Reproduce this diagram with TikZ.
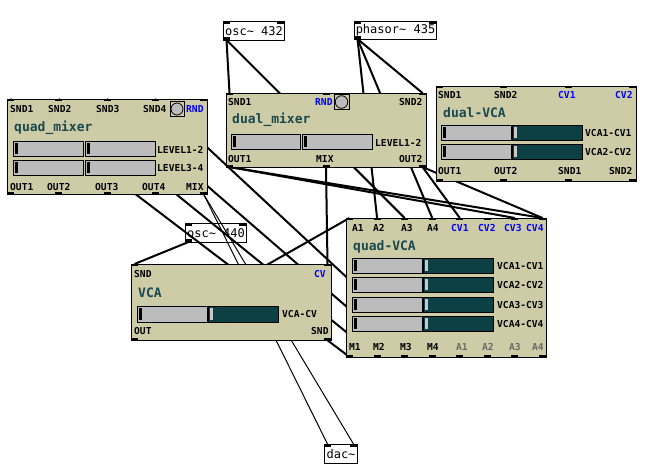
\documentclass[tikz,border=0pt]{standalone}
\usepackage{fontspec}
\newfontfamily\pdmono{DejaVu Sans Mono}
\definecolor{gopbg}{RGB}{206,204,166}
\definecolor{ttlc}{RGB}{25,72,78}
\definecolor{slgrey}{RGB}{188,188,188}
\definecolor{slteal}{RGB}{12,64,68}
\definecolor{knobgrey}{RGB}{200,200,200}
\definecolor{lblue}{RGB}{0,0,255}
\definecolor{lgrey}{RGB}{105,105,105}
\newcommand\pdhsl[4]{%
  \draw[line width=1pt,fill=slgrey] (#1,#2) rectangle (#3,#4);
  \fill[black] (#1+1.5,#2+2) rectangle (#1+4.5,#4-2);}
\newcommand\pdtsl[4]{%
  \draw[line width=1pt,fill=slteal] (#1,#2) rectangle (#3,#4);
  \fill[knobgrey] (#1+1.5,#2+2) rectangle (#1+4.5,#4-2);}
\begin{document}
\begin{tikzpicture}[x=1pt,y=-1pt,
  lab/.style={font=\pdmono\bfseries\fontsize{9.6}{11}\selectfont,anchor=base west,inner sep=0pt,text=black},
  blab/.style={lab,text=lblue},
  glab/.style={lab,text=lgrey},
  ttl/.style={font=\pdmono\bfseries\fontsize{13}{15}\selectfont,anchor=base west,inner sep=0pt,text=ttlc},
  obj/.style={draw=black,line width=1pt,anchor=north west,inner sep=0pt,minimum height=19pt,font=\pdmono\fontsize{12}{14}\selectfont},
  gop/.style={draw=black,line width=1pt,fill=gopbg,anchor=north west,inner sep=0pt},
  sig/.style={line width=2pt},
  ctl/.style={line width=1pt},
  iomark/.style={fill=black}]
\fill[white] (0,0) rectangle (647,471);
\useasboundingbox (0,0) rectangle (647,471);

% ---------- inlet / outlet coordinates ----------
\foreach \i/\x in {0/10.5,1/58.75,2/107,3/155.25,4/203.5}{
  \coordinate (qmi\i) at (\x,99); \coordinate (qmo\i) at (\x,194);}
\foreach \i/\x in {0/229.5,1/326,2/422.5}{
  \coordinate (dmi\i) at (\x,93); \coordinate (dmo\i) at (\x,167);}
\foreach \i/\x in {0/349.5,1/377.07,2/404.64,3/432.21,4/459.79,5/487.36,6/514.93,7/542.5}{
  \coordinate (qvi\i) at (\x,218); \coordinate (qvo\i) at (\x,357);}
\foreach \i/\x in {0/134.5,1/327.5}{
  \coordinate (vci\i) at (\x,264); \coordinate (vco\i) at (\x,340);}
\coordinate (oscao) at (226.5,40);
\coordinate (phso) at (357.5,39);
\coordinate (oscbo) at (188.5,242);
\coordinate (daci0) at (327.5,444);
\coordinate (daci1) at (353.5,444);

% ---------- connections ----------
\draw[sig] (oscao) -- (dmi0);
\draw[sig] (oscao) -- (qvi2);
\draw[sig] (phso) -- (qvi1);
\draw[sig] (phso) -- (qvi3);
\draw[sig] (phso) -- (dmi2);
\draw[sig] (dmo1) -- (vci1);
\draw[sig] (dmo0) -- (qvi6);
\draw[sig] (dmo0) -- (qvi7);
\draw[sig] (dmo2) -- (qvi4);
\draw[sig] (dmo2) -- (qvi7);
\draw[sig] (oscbo) -- (vci0);
\draw[sig] (vco0) -- (qvi0);
\draw[ctl] (qmo4) -- (daci0);
\draw[ctl] (qmo4) -- (daci1);
\foreach \i in {0,...,3}{\draw[sig] (qvo\i) -- (qmi\i);}

% ---------- quad_mixer ----------
\node[gop,minimum width=200pt,minimum height=95pt] (qm) at (7,99) {};
\foreach \x in {7,55.25,103.5,151.75,200}{
  \fill[iomark] (\x,99) rectangle (\x+7,101);
  \fill[iomark] (\x,192) rectangle (\x+7,194);}
\node[lab] (qmt1) at (10,112) {SND1};
\node[lab] (qmt2) at (48,112) {SND2};
\node[lab] (qmt3) at (96,112) {SND3};
\node[lab] (qmt4) at (143,112) {SND4};
\node[blab] (qmt5) at (186,112) {RND};
\draw[line width=1pt,fill=gopbg] (170,101.5) rectangle (184,116.5);
\draw[line width=0.8pt,fill=slgrey] (177,109) circle[radius=6pt];
\node[ttl] (qmtitle) at (14,131) {quad\_mixer};
\pdhsl{13}{141}{83}{156}
\pdhsl{85}{141}{155}{156}
\pdhsl{13}{160}{83}{175}
\pdhsl{85}{160}{155}{175}
\node[lab] (qml1) at (157,153) {LEVEL1-2};
\node[lab] (qml2) at (157,171) {LEVEL3-4};
\node[lab] (qmb1) at (10,190) {OUT1};
\node[lab] (qmb2) at (47,190) {OUT2};
\node[lab] (qmb3) at (95,190) {OUT3};
\node[lab] (qmb4) at (142,190) {OUT4};
\node[lab] (qmb5) at (186,190) {MIX};

% ---------- dual_mixer ----------
\node[gop,minimum width=200pt,minimum height=74pt] (dm) at (226,93) {};
\foreach \x in {226,322.5,419}{
  \fill[iomark] (\x,93) rectangle (\x+7,95);
  \fill[iomark] (\x,165) rectangle (\x+7,167);}
\node[lab] (dmt1) at (228,105) {SND1};
\node[blab] (dmt2) at (315,105) {RND};
\draw[line width=1pt,fill=gopbg] (334,94.5) rectangle (349,109.5);
\draw[line width=0.8pt,fill=slgrey] (341.5,102) circle[radius=6.3pt];
\node[lab] (dmt3) at (399,105) {SND2};
\node[ttl] (dmtitle) at (232,123) {dual\_mixer};
\pdhsl{231}{134}{300}{149}
\pdhsl{302}{134}{372}{149}
\node[lab] (dml1) at (375,146) {LEVEL1-2};
\node[lab] (dmb1) at (228,162) {OUT1};
\node[lab] (dmb2) at (316,162) {MIX};
\node[lab] (dmb3) at (399,162) {OUT2};

% ---------- dual-VCA ----------
\node[gop,minimum width=200pt,minimum height=95pt] (dv) at (436,86) {};
\foreach \x in {436,500.33,564.67,629}{
  \fill[iomark] (\x,86) rectangle (\x+7,88);
  \fill[iomark] (\x,179) rectangle (\x+7,181);}
\node[lab] (dvt1) at (438,98) {SND1};
\node[lab] (dvt2) at (494,98) {SND2};
\node[blab] (dvt3) at (558,98) {CV1};
\node[blab] (dvt4) at (615,98) {CV2};
\node[ttl] (dvtitle) at (443,117) {dual-VCA};
\pdhsl{441}{125}{511}{140}
\pdtsl{512}{125}{582}{140}
\pdhsl{441}{144}{511}{159}
\pdtsl{512}{144}{582}{159}
\node[lab] (dvl1) at (585,136) {VCA1-CV1};
\node[lab] (dvl2) at (585,155) {VCA2-CV2};
\node[lab] (dvb1) at (438,174) {OUT1};
\node[lab] (dvb2) at (494,174) {OUT2};
\node[lab] (dvb3) at (558,174) {SND1};
\node[lab] (dvb4) at (609,174) {SND2};

% ---------- quad-VCA ----------
\node[gop,minimum width=200pt,minimum height=139pt] (qv) at (346,218) {};
\foreach \x in {346,373.57,401.14,428.71,456.29,483.86,511.43,539}{
  \fill[iomark] (\x,218) rectangle (\x+7,220);
  \fill[iomark] (\x,355) rectangle (\x+7,357);}
\node[lab] (qvt1) at (352,231) {A1};
\node[lab] (qvt2) at (373,231) {A2};
\node[lab] (qvt3) at (401,231) {A3};
\node[lab] (qvt4) at (427,231) {A4};
\node[blab] (qvt5) at (451,231) {CV1};
\node[blab] (qvt6) at (478,231) {CV2};
\node[blab] (qvt7) at (504,231) {CV3};
\node[blab] (qvt8) at (526,231) {CV4};
\node[ttl] (qvtitle) at (353,250) {quad-VCA};
\pdhsl{352}{258}{422}{273}
\pdtsl{423}{258}{493}{273}
\pdhsl{352}{277}{422}{292}
\pdtsl{423}{277}{493}{292}
\pdhsl{352}{297}{422}{312}
\pdtsl{423}{297}{493}{312}
\pdhsl{352}{316}{422}{331}
\pdtsl{423}{316}{493}{331}
\node[lab] (qvl1) at (497,269) {VCA1-CV1};
\node[lab] (qvl2) at (497,288) {VCA2-CV2};
\node[lab] (qvl3) at (497,308) {VCA3-CV3};
\node[lab] (qvl4) at (497,327) {VCA4-CV4};
\node[lab] (qvb1) at (349,350) {M1};
\node[lab] (qvb2) at (373,350) {M2};
\node[lab] (qvb3) at (400,350) {M3};
\node[lab] (qvb4) at (427,350) {M4};
\node[glab] (qvb5) at (456,350) {A1};
\node[glab] (qvb6) at (482,350) {A2};
\node[glab] (qvb7) at (509,350) {A3};
\node[glab] (qvb8) at (532,350) {A4};

% ---------- VCA ----------
\node[gop,minimum width=200pt,minimum height=76pt] (vca) at (131,264) {};
\foreach \x in {131,324}{
  \fill[iomark] (\x,264) rectangle (\x+7,266);
  \fill[iomark] (\x,338) rectangle (\x+7,340);}
\node[lab] (vct1) at (134,277) {SND};
\node[blab] (vct2) at (314,277) {CV};
\node[ttl] (vctitle) at (138,297) {VCA};
\pdhsl{137}{306}{207}{322}
\pdtsl{208}{306}{278}{322}
\node[lab] (vcl1) at (282,317) {VCA-CV};
\node[lab] (vcb1) at (134,334) {OUT};
\node[lab] (vcb2) at (311,334) {SND};

% ---------- object boxes ----------
\node[obj,minimum width=61pt] (osca) at (223,21) {osc\textasciitilde{} 432};
\fill[iomark] (223,21) rectangle (230,24);
\fill[iomark] (277,21) rectangle (284,24);
\fill[iomark] (223,37) rectangle (230,40);
\node[obj,minimum width=82pt,minimum height=18pt] (phs) at (354,21) {phasor\textasciitilde{} 435};
\fill[iomark] (354,21) rectangle (361,24);
\fill[iomark] (429,21) rectangle (436,24);
\fill[iomark] (354,36) rectangle (361,39);
\node[obj,minimum width=61pt] (oscb) at (185,223) {osc\textasciitilde{} 440};
\fill[iomark] (185,223) rectangle (192,226);
\fill[iomark] (239,223) rectangle (246,226);
\fill[iomark] (185,239) rectangle (192,242);
\node[obj,minimum width=33pt] (dac) at (324,444) {dac\textasciitilde};
\fill[iomark] (324,444) rectangle (331,447);
\fill[iomark] (350,444) rectangle (357,447);
\end{tikzpicture}
\end{document}
